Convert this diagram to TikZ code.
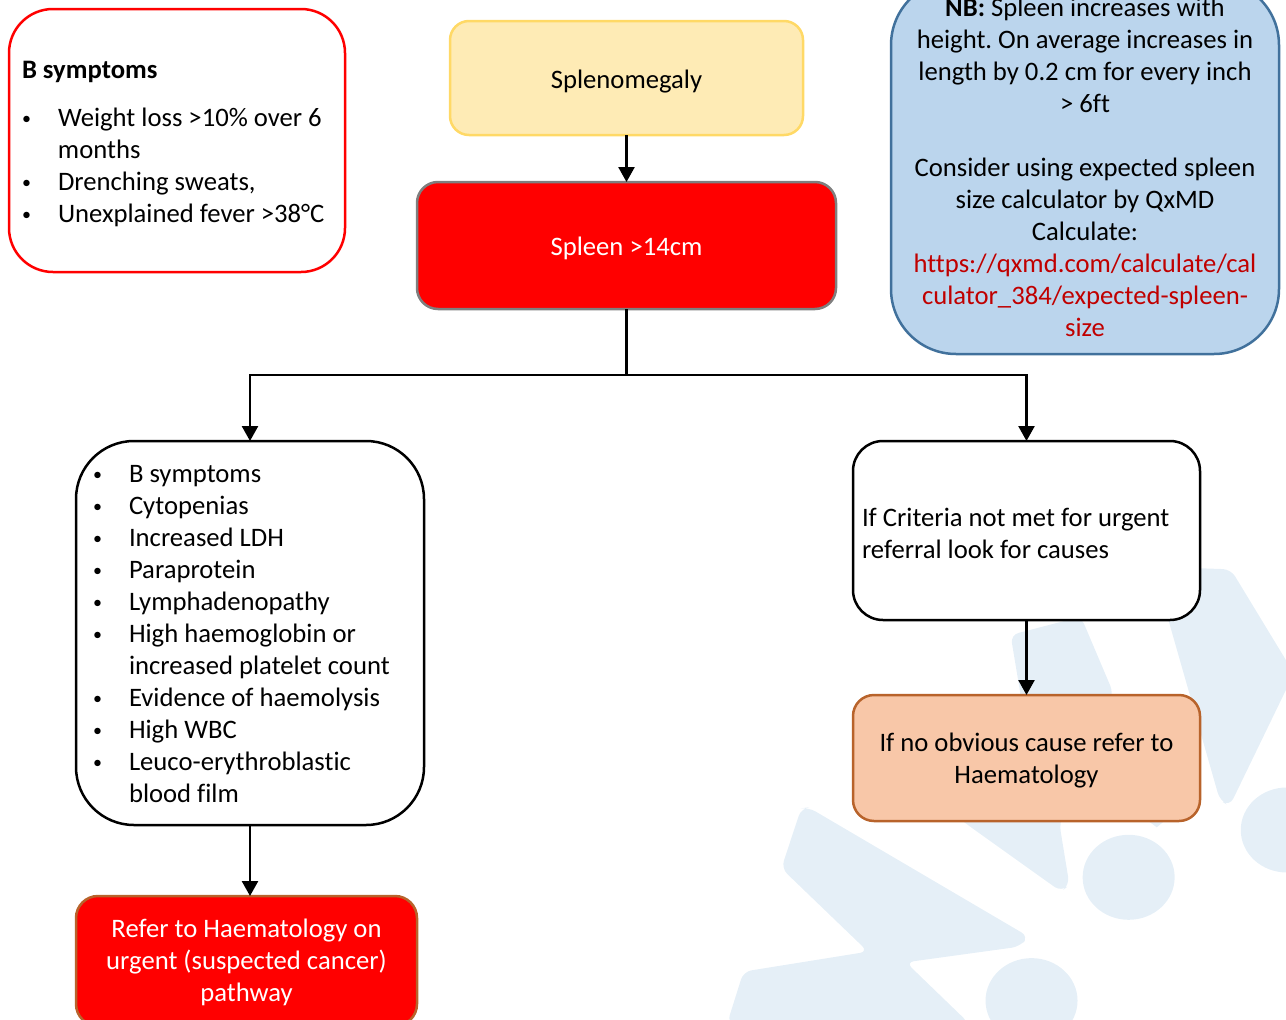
\documentclass[tikz,border=0pt]{standalone}
\usepackage{fontspec}
\setmainfont[Ligatures=NoCommon]{Carlito}
\usetikzlibrary{arrows.meta}
\definecolor{wmark}{HTML}{E5EFF7}
\definecolor{yellowfill}{HTML}{FEEBB5}
\definecolor{yellowline}{HTML}{FFD966}
\definecolor{bluefill}{HTML}{BBD5ED}
\definecolor{blueline}{HTML}{41719C}
\definecolor{orangefill}{HTML}{F8C7A8}
\definecolor{orangeline}{HTML}{B8632B}
\definecolor{pureRed}{HTML}{FF0000}
\definecolor{greyline}{HTML}{7F7F7F}
\definecolor{linkred}{HTML}{C00000}
\newcommand{\bul}{\makebox[36pt][l]{\raisebox{2.5pt}{\fontsize{18}{18}\selectfont •}}}
\tikzset{
  box/.style={draw,line width=2.5pt,outer sep=0pt,inner sep=0pt,align=center,
    font=\fontsize{26.67}{32}\selectfont\frenchspacing},
  listbox/.style={box,align=flush left},
  conn/.style={line width=2.5pt,draw=black},
  arr/.style={conn,-{Triangle[width=16pt,length=15pt]}},
  wm/.style={fill=wmark,draw=none}
}
\begin{document}
\begin{tikzpicture}[x=1pt,y=-1pt]
\useasboundingbox (0,0) rectangle (1286,1020);
\clip (0,0) rectangle (1286,1020);
% watermark
\begin{scope}[shift={(720,560)},x=0.361pt,y=-0.3333pt]
\fill[wm,rounded corners=8pt] (245,742) -- (855,1130) -- (830,1160) -- (515,1207) -- (690,1390) -- (20,1390) -- (65,1235) -- (410,1175) -- (170,925) -- (225,745) -- cycle;
\fill[wm,rounded corners=8pt] (805,225) -- (835,420) -- (600,720) -- (680,790) -- (945,995) -- (968,975) -- (940,790) -- (1090,400) -- (1000,170) -- cycle;
\fill[wm,rounded corners=8pt] (1200,20) -- (1415,28) -- (1590,340) -- (1412,738) -- (1385,722) -- cycle;
\fill[wm] (1170,770) -- (1210,802) -- (1245,770) -- cycle;
\fill[wm] (1132,952) circle[x radius=46pt,y radius=42.5pt];
\fill[wm] (863,1322) circle[x radius=46pt,y radius=42.5pt];
\fill[wm] (1570,810) circle[x radius=46pt,y radius=42.5pt];
\end{scope}
% boxes
\node[listbox,draw=pureRed,fill=white,rounded corners=44pt,minimum width=336pt,minimum height=263pt,inner xsep=13pt,text width=310pt,text height=25pt] (bsym) at (177,140.5)
  {\textbf{B symptoms}\\[16pt]
   \bul Weight loss >10\% over 6\\
   \hspace*{36pt}months\\
   \bul Drenching sweats,\\
   \bul Unexplained fever >38°C};
\node[box,draw=yellowline,fill=yellowfill,rounded corners=19pt,minimum width=353pt,minimum height=114pt,text height=25pt,text depth=5pt] (splen) at (626.5,78) {Splenomegaly};
\node[box,draw=greyline,fill=pureRed,text=white,rounded corners=21pt,minimum width=419pt,minimum height=127pt,text height=25pt,text depth=5pt] (spleen) at (626.5,245.5) {Spleen >14cm};
\node[box,draw=blueline,fill=bluefill,rounded corners=65pt,minimum width=388pt,minimum height=374pt] (nb) at (1085,167)
  {\textbf{NB:} Spleen increases with\\
   height. On average increases in\\
   length by 0.2 cm for every inch\\
   > 6ft\\[32pt]
   Consider using expected spleen\\
   size calculator by QxMD\\
   Calculate:\\
   \textcolor{linkred}{https://qxmd.com/calculate/cal}\\
   \textcolor{linkred}{culator\_384/expected-spleen-}\\
   \textcolor{linkred}{size}};
\node[listbox,fill=white,rounded corners=58pt,minimum width=348pt,minimum height=384pt,inner xsep=17pt,text width=314pt,text height=20pt] (crit) at (250,633)
  {\bul B symptoms\\
   \bul Cytopenias\\
   \bul Increased LDH\\
   \bul Paraprotein\\
   \bul Lymphadenopathy\\
   \bul High haemoglobin or\\
   \hspace*{36pt}increased platelet count\\
   \bul Evidence of haemolysis\\
   \bul High WBC\\
   \bul Leuco-erythroblastic\\
   \hspace*{36pt}blood film};
\node[listbox,fill=white,rounded corners=30pt,minimum width=347pt,minimum height=179pt,inner xsep=9pt,text width=329pt,text height=23.5pt] (nourg) at (1026.5,530.5)
  {If Criteria not met for urgent\\referral look for causes};
\node[box,draw=orangeline,fill=orangefill,rounded corners=21pt,minimum width=347pt,minimum height=126pt,text height=56pt,text depth=5pt] (hae) at (1026.5,758)
  {If no obvious cause refer to\\Haematology};
\node[box,draw=orangeline,fill=pureRed,text=white,rounded corners=22pt,minimum width=341pt,minimum height=130pt,text height=86pt,text depth=5pt] (refer) at (246.5,961)
  {Refer to Haematology on\\urgent (suspected cancer)\\pathway};
% connectors
\coordinate (jn) at (spleen.south |- 0,375);
\draw[arr] (splen.south) -- (spleen.north);
\draw[conn] (spleen.south) -- (jn);
\draw[arr] (jn) -| (crit.north);
\draw[arr] (jn) -| (nourg.north);
\draw[arr] (crit.south) -- (crit.south |- refer.north);
\draw[arr] (nourg.south) -- (hae.north);
\end{tikzpicture}
\end{document}
